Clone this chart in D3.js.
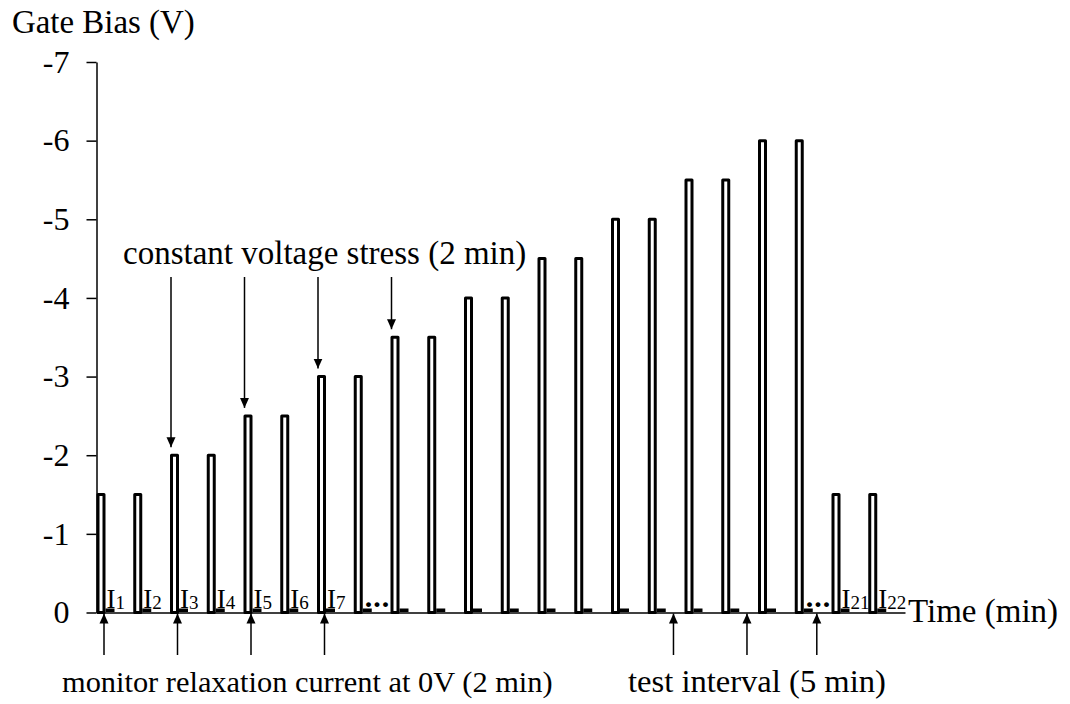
<!DOCTYPE html>
<html>
<head>
<meta charset="utf-8">
<script src="https://cdn.jsdelivr.net/npm/d3@7"></script>
<style>
  html, body { margin: 0; padding: 0; background: #fff; }
  svg { display: block; font-family: "Liberation Serif", "Times New Roman", serif; }
</style>
</head>
<body>
<svg id="chart" width="1070" height="704"></svg>
<script>
// Stress cycles and the gate bias applied during each 2-minute stress step (V)
const cycles = d3.range(1, 23);
const gateBias = [-1.5, -1.5, -2, -2, -2.5, -2.5, -3, -3, -3.5, -3.5, -4, -4,
                  -4.5, -4.5, -5, -5, -5.5, -5.5, -6, -6, -1.5, -1.5];
const yTicks = [0, -1, -2, -3, -4, -5, -6, -7];

// Relaxation-current labels (I_n) and where the sequence is elided
const currentCycles = [1, 2, 3, 4, 5, 6, 7, 21, 22];
const ellipsisCycles = [8, 20];

// Annotation arrows, in cycle units
const stressArrowCycles = [3, 5, 7, 9];
const monitorArrowCycles = [1, 3, 5, 7];
const intervalArrowCycles = [16.7, 18.7, 20.6];

const svg = d3.select("#chart");

const x = d3.scaleLinear().domain([1, 23]).range([96.5, 905]);
const y = d3.scaleLinear().domain([0, -7]).range([612.5, 62]);

const barW = 6;       // stress pulse width (px)
const relaxW = 9;     // 0 V monitoring segment width (px)

// Arrow head marker
svg.append("defs").append("marker")
  .attr("id", "head")
  .attr("viewBox", "0 -5 10 10")
  .attr("refX", 10).attr("refY", 0)
  .attr("markerUnits", "userSpaceOnUse")
  .attr("markerWidth", 10).attr("markerHeight", 10)
  .attr("orient", "auto")
  .append("path").attr("d", "M0,-4.5L10,0L0,4.5Z").attr("fill", "#000");

// Y axis
const yAxis = svg.append("g")
  .attr("transform", `translate(${x(1)},0)`)
  .call(d3.axisLeft(y).tickValues(yTicks).tickSize(10).tickSizeOuter(0)
        .tickPadding(17).tickFormat(d => String(d)));
yAxis.select(".domain").attr("stroke", "#000").attr("stroke-width", 1.5);
yAxis.selectAll(".tick line").attr("stroke", "#000").attr("stroke-width", 1.5);
yAxis.selectAll(".tick text").attr("font-size", 32).attr("fill", "#000")
  .attr("font-family", "Liberation Serif, Times New Roman, serif");

// X axis baseline (time)
const xAxis = svg.append("g")
  .attr("transform", `translate(0,${y(0)})`)
  .call(d3.axisBottom(x).tickValues([]).tickSizeOuter(0));
xAxis.select(".domain").attr("stroke", "#000").attr("stroke-width", 1.5);

// Stress pulses
svg.append("g").selectAll("rect.bar")
  .data(cycles)
  .join("rect")
  .attr("class", "bar")
  .attr("x", c => x(c) + 1.5)
  .attr("y", (c, i) => y(gateBias[i]))
  .attr("width", barW)
  .attr("height", (c, i) => y(0) - y(gateBias[i]))
  .attr("fill", "#fff")
  .attr("stroke", "#000")
  .attr("stroke-width", 3)
  .attr("stroke-linejoin", "round");

// 0 V relaxation monitoring segments
svg.append("g").selectAll("rect.relax")
  .data(cycles)
  .join("rect")
  .attr("x", c => x(c) + barW + 3)
  .attr("y", y(0) - 4)
  .attr("width", relaxW)
  .attr("height", 3.5)
  .attr("fill", "#000");

// I_n labels
const lbl = svg.append("g").selectAll("text.cur")
  .data(currentCycles)
  .join("text")
  .attr("x", c => x(c) + barW + 4)
  .attr("y", y(0) - 5)
  .attr("font-size", 27)
  .attr("fill", "#000");
lbl.append("tspan").text("I");
lbl.append("tspan").attr("font-size", 19).attr("dy", 1).text(c => c);

// Elided cycles
svg.append("g").selectAll("text.dots")
  .data(ellipsisCycles)
  .join("text")
  .attr("x", c => x(c) + barW + 5)
  .attr("y", y(0) - 6)
  .attr("font-size", 30)
  .attr("font-weight", "bold")
  .attr("letter-spacing", 1)
  .attr("fill", "#000")
  .text("...");

// Stress annotation
svg.append("text")
  .attr("x", 123).attr("y", 264)
  .attr("font-size", 33)
  .attr("fill", "#000")
  .text("constant voltage stress (2 min)");

svg.append("g").selectAll("line")
  .data(stressArrowCycles)
  .join("line")
  .attr("x1", c => x(c) + 1).attr("x2", c => x(c) + 1)
  .attr("y1", 277)
  .attr("y2", c => y(gateBias[c - 1]) - 8)
  .attr("stroke", "#000").attr("stroke-width", 1.5)
  .attr("marker-end", "url(#head)");

// Monitoring and test-interval annotations
svg.append("g").selectAll("line")
  .data(monitorArrowCycles)
  .join("line")
  .attr("x1", c => x(c) + 7.5).attr("x2", c => x(c) + 7.5)
  .attr("y1", 655).attr("y2", y(0) + 1)
  .attr("stroke", "#000").attr("stroke-width", 1.5)
  .attr("marker-end", "url(#head)");

svg.append("g").selectAll("line")
  .data(intervalArrowCycles)
  .join("line")
  .attr("x1", c => x(c)).attr("x2", c => x(c))
  .attr("y1", 655).attr("y2", y(0) + 1)
  .attr("stroke", "#000").attr("stroke-width", 1.5)
  .attr("marker-end", "url(#head)");

svg.append("text")
  .attr("x", 62).attr("y", 692)
  .attr("font-size", 30.4).attr("fill", "#000")
  .text("monitor relaxation current at 0V (2 min)");

svg.append("text")
  .attr("x", 628).attr("y", 692)
  .attr("font-size", 32.6).attr("fill", "#000")
  .text("test interval (5 min)");

// Axis titles
svg.append("text")
  .attr("x", 12).attr("y", 33)
  .attr("font-size", 32.9).attr("fill", "#000")
  .text("Gate Bias (V)");

svg.append("text")
  .attr("x", 908).attr("y", 622)
  .attr("font-size", 33).attr("fill", "#000")
  .text("Time (min)");
</script>
</body>
</html>
